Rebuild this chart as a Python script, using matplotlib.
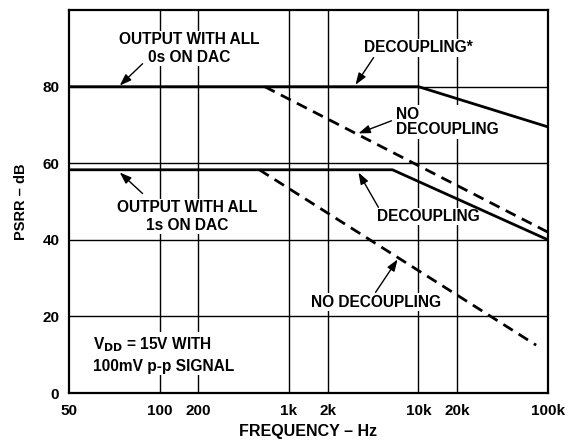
import matplotlib
matplotlib.use('Agg')
import matplotlib.pyplot as plt

plt.rcParams['font.family'] = ['Liberation Sans', 'DejaVu Sans']
plt.rcParams['font.weight'] = 'bold'

# curves (frequency in Hz, PSRR in dB)
freq_dec_0s = [20, 10000, 100000]
psrr_dec_0s = [80, 80, 69.5]
freq_nodec_0s = [650, 100000]
psrr_nodec_0s = [80, 42]
freq_dec_1s = [20, 6300, 100000]
psrr_dec_1s = [58.3, 58.3, 40]
freq_nodec_1s = [590, 81000]
psrr_nodec_1s = [58.3, 12.5]

x_ticks = [20, 100, 200, 1000, 2000, 10000, 20000, 100000]
x_labels = ['50', '100', '200', '1k', '2k', '10k', '20k', '100k']
y_ticks = [0, 20, 40, 60, 80]

fig = plt.figure(figsize=(5.77, 4.40), dpi=100)
ax = fig.add_axes([0.1196, 0.1068, 0.8301, 0.8702])
ax.set_xscale('log')
ax.set_xlim(20, 100000)
ax.set_ylim(0, 100)

# grid
for xv in [100, 200, 1000, 2000, 10000, 20000]:
    ax.axvline(xv, color='black', lw=1.0, zorder=1)
for yv in [20, 40, 60, 80]:
    ax.axhline(yv, color='black', lw=1.0, zorder=1)

ax.plot(freq_dec_0s, psrr_dec_0s, color='black', lw=2, zorder=3)
ax.plot(freq_nodec_0s, psrr_nodec_0s, color='black', lw=2, ls=(0, (4, 2.5)), zorder=3)
ax.plot(freq_dec_1s, psrr_dec_1s, color='black', lw=2, zorder=3)
ax.plot(freq_nodec_1s, psrr_nodec_1s, color='black', lw=2, ls=(0, (4, 2.5)), zorder=3)

ax.set_xticks(x_ticks)
ax.set_xticklabels(x_labels)
ax.minorticks_off()
ax.set_yticks(y_ticks)
ax.tick_params(length=0, labelsize=11)
ax.tick_params(axis='x', pad=8)
ax.tick_params(axis='y', pad=7)
for lab in ax.get_xticklabels() + ax.get_yticklabels():
    lab.set_fontweight('bold')
for s in ax.spines.values():
    s.set_linewidth(1.6)

ax.set_xlabel('FREQUENCY – Hz', fontsize=11.5, fontweight='bold', labelpad=4)
ax.set_ylabel('PSRR – dB', fontsize=10.5, fontweight='bold', labelpad=10)

box = dict(facecolor='white', edgecolor='none', pad=1)
fs = 11.2
ax.text(170, 90.0, 'OUTPUT WITH ALL\n0s ON DAC', ha='center', va='center',
        fontsize=fs, fontweight='bold', linespacing=1.25, bbox=box, zorder=2)
ax.text(164, 46.1, 'OUTPUT WITH ALL\n1s ON DAC', ha='center', va='center',
        fontsize=fs, fontweight='bold', linespacing=1.2, bbox=box, zorder=2)
ax.text(10000, 90.2, 'DECOUPLING*', ha='center', va='center',
        fontsize=fs, fontweight='bold', bbox=box, zorder=2)
ax.text(6670, 70.8, 'NO\nDECOUPLING', ha='left', va='center',
        fontsize=fs, fontweight='bold', linespacing=1.05, bbox=box, zorder=2)
ax.text(11960, 46.1, 'DECOUPLING', ha='center', va='center',
        fontsize=fs, fontweight='bold', bbox=box, zorder=2)
ax.text(4663, 23.7, 'NO DECOUPLING', ha='center', va='center',
        fontsize=fs, fontweight='bold', bbox=box, zorder=2)
ax.text(30.6, 10.0, r'V$_{\mathbf{DD}}$ = 15V WITH' + '\n100mV p-p SIGNAL', ha='left', va='center',
        fontsize=fs, fontweight='bold', linespacing=1.4, bbox=box, zorder=2)

arrows = [
    ((74, 86), (49.3, 80.3)),
    ((74, 52.1), (49.3, 57.6)),
    ((4497, 87.6), (3263, 80.5)),
    ((6190, 71.1), (3437, 67.8)),
    ((4900, 48.5), (3437, 57.6)),
    ((4663, 26.3), (6900, 34.9)),
]
for tail, head in arrows:
    ax.annotate('', xy=head, xytext=tail,
                arrowprops=dict(arrowstyle='-|>,head_length=0.7,head_width=0.25',
                                color='black', lw=1.0, shrinkA=0, shrinkB=0),
                zorder=5)

fig.savefig('out.png', dpi=100)
